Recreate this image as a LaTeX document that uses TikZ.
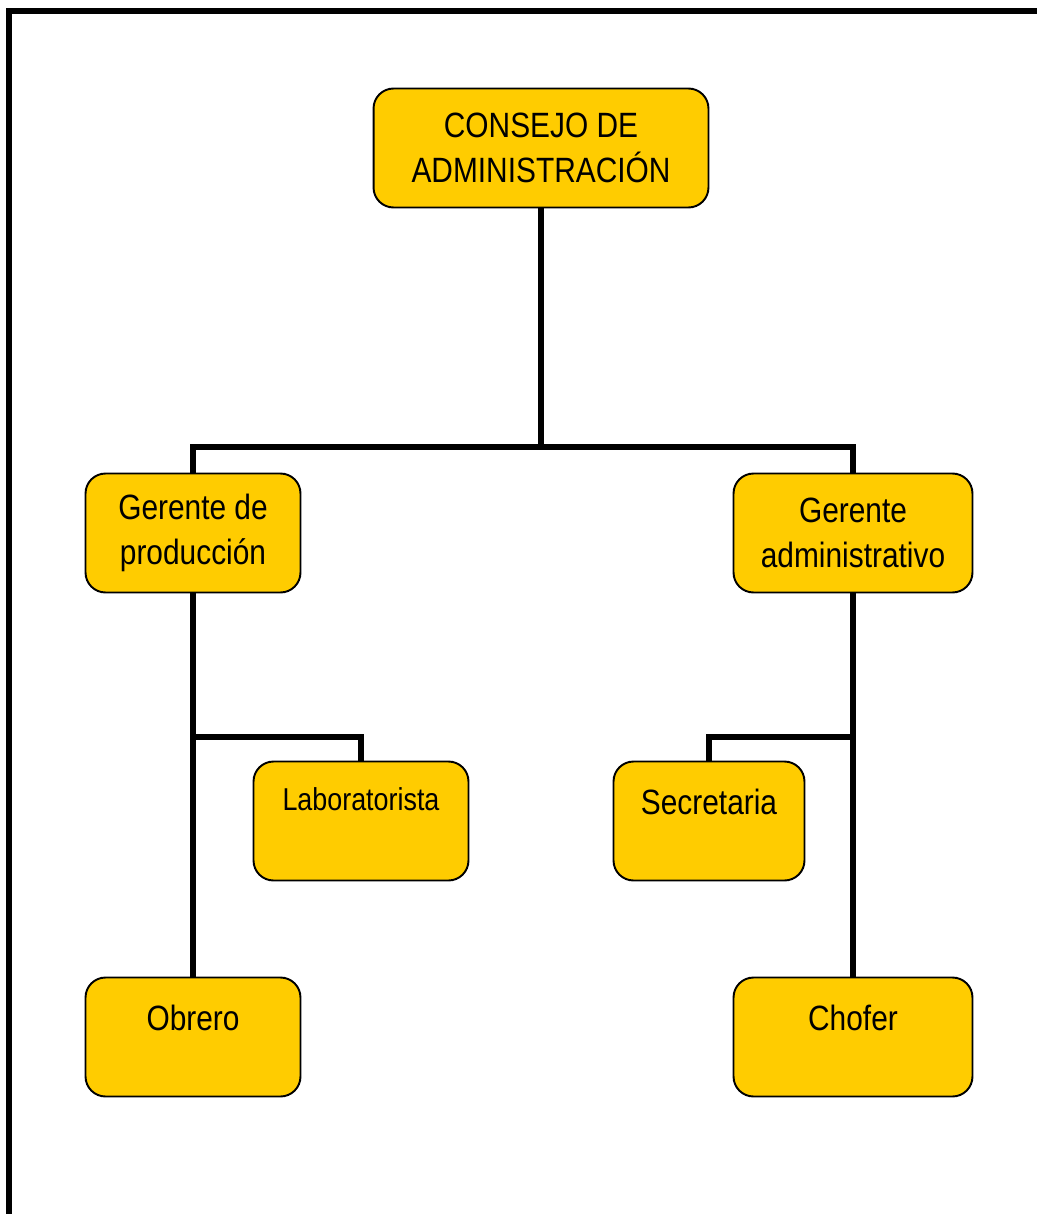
\documentclass[tikz,border=0pt]{standalone}
\usepackage{fontspec}
\setmainfont[FakeStretch=0.85]{Liberation Sans}
\usepackage{tikz}

\definecolor{gold}{HTML}{FFCC00}
\tikzset{
  box/.style={draw, fill=gold, rounded corners=0.4cm, line width=1.1pt,
    minimum height=2.38cm, inner sep=0pt},
  wire/.style={line width=3.4pt},
  txt/.style={font=\fontsize{20}{26}\selectfont, align=center, inner sep=0pt}
}

\begin{document}
\begin{tikzpicture}[x=0.02cm, y=-0.02cm]
\useasboundingbox (0,0) rectangle (1037,1214);
% outer frame
\draw[line width=3.4pt] (9,1214) -- (9,11) -- (1037,11);
% boxes
\node[box, minimum width=6.7cm] (cons) at (541,148) {};
\node[box, minimum width=4.3cm] (gprod) at (193,533) {};
\node[box, minimum width=4.78cm] (gadm) at (853,533) {};
\node[box, minimum width=4.3cm] (lab) at (361,821) {};
\node[box, minimum width=3.82cm] (sec) at (709,821) {};
\node[box, minimum width=4.3cm] (obr) at (193,1037) {};
\node[box, minimum width=4.78cm] (chof) at (853,1037) {};
% texts
\node[txt] (tcons) at (cons) {CONSEJO DE\\ADMINISTRACIÓN};
\node[txt] (tgprod) at (gprod) {Gerente de\\producción};
\node[txt] (tgadm) at (gadm) {Gerente\\administrativo};
\node[txt, font=\fontsize{18}{22}\selectfont] (tlab) at ([yshift=-0.78cm]lab.north) {Laboratorista};
\node[txt] (tsec) at ([yshift=-0.82cm]sec.north) {Secretaria};
\node[txt] (tobr) at ([yshift=-0.82cm]obr.north) {Obrero};
\node[txt] (tchof) at ([yshift=-0.82cm]chof.north) {Chofer};
% connectors
\coordinate (bar) at (541,447);
\coordinate (lbar) at (193,737);
\coordinate (rbar) at (853,737);
\draw[wire] (cons.south) -- (bar);
\draw[wire] (gprod.north) -- (gprod.north |- bar) -- (gadm.north |- bar) -- (gadm.north);
\draw[wire] (gprod.south) -- (obr.north);
\draw[wire] (lbar) -| (lab.north);
\draw[wire] (gadm.south) -- (chof.north);
\draw[wire] (rbar) -| (sec.north);
\end{tikzpicture}
\end{document}
